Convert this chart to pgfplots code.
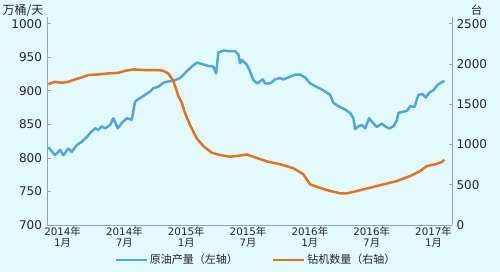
\documentclass[border=0pt]{standalone}
\usepackage{pgfplots}
\pgfplotsset{compat=1.18}
\usepackage{fontspec}
\setmainfont{DejaVu Sans}
\newfontfamily\cjk{Noto Sans CJK SC}
\definecolor{bg}{HTML}{E2FAFC}
\definecolor{oilblue}{HTML}{52A6E0}
\definecolor{rigorange}{HTML}{E7721C}
\definecolor{axgray}{HTML}{9AA3A6}
\begin{document}
\begin{tikzpicture}
\fill[bg] (-47.5pt,-47pt) rectangle (452.5pt,225pt);
\path[use as bounding box] (-47.5pt,-47pt) rectangle (452.5pt,225pt);
\pgfplotsset{
  common/.style={
    at={(0pt,0pt)}, anchor=south west,
    scale only axis, width=404.5pt, height=208pt,
    xmin=-1.46, xmax=37.8,
    axis line style={axgray, line width=0.8pt},
    tick style={axgray, line width=0.8pt},
    tick align=inside, major tick length=3pt,
    /pgf/number format/assume math mode=true,
    /pgf/number format/1000 sep={},
    clip=false,
  }
}
\begin{axis}[common,
  axis x line*=bottom, axis y line*=left,
  ymin=700, ymax=1010,
  ytick={700,750,...,1000},
  yticklabel style={font=\fontsize{12}{12}\selectfont, text=black!85, xshift=-2pt},
  xtick={0,6,12,18,24,30,36},
  major x tick style={draw=none},
  xticklabels={2014{\cjk 年}\\1{\cjk 月},2014{\cjk 年}\\7{\cjk 月},2015{\cjk 年}\\1{\cjk 月},2015{\cjk 年}\\7{\cjk 月},2016{\cjk 年}\\1{\cjk 月},2016{\cjk 年}\\7{\cjk 月},2017{\cjk 年}\\1{\cjk 月}},
  xticklabel style={align=center, font=\fontsize{10.3}{10.3}\selectfont, text=black!85, inner sep=1pt, yshift=-1pt},
]
\addplot[oilblue, line width=2.5pt, line join=round] coordinates {
(-1.38,815.8) (-0.73,804) (-0.24,812) (0.08,804) (0.56,814) (0.89,809) (1.38,819) (1.86,824)
(2.35,831) (2.67,837) (3.16,844) (3.48,842) (3.81,847) (4.13,844) (4.61,849) (4.93,859)
(5.36,844) (5.75,852) (6.23,859) (6.72,857) (7.04,884) (7.52,889) (8.01,894) (8.50,899)
(8.82,904) (9.30,906) (9.79,912) (10.27,914) (10.76,915) (11.41,919) (12.06,929) (12.54,936)
(13.03,942) (13.51,940) (14.16,937) (14.64,936) (14.90,926) (15.13,957) (15.61,960) (16.26,959)
(16.75,959) (17.07,954) (17.23,941) (17.40,946) (17.88,939) (18.20,929) (18.52,916) (18.91,911)
(19.17,914) (19.44,917) (19.66,911) (20.15,911) (20.63,917) (21.12,919) (21.44,917) (21.92,920)
(22.57,924) (23.06,924) (23.54,920) (24.03,911) (24.51,907) (25.17,902) (25.97,894) (26.29,882)
(26.78,877) (27.43,872) (27.91,867) (28.23,859) (28.40,843) (28.72,847) (29.05,849) (29.37,844)
(29.76,859) (30.08,853) (30.50,846) (30.99,851) (31.31,847) (31.70,844) (32.12,847) (32.45,856)
(32.60,867) (33.09,869) (33.42,870) (33.74,877) (34.16,876) (34.54,894) (34.93,895) (35.26,890)
(35.58,897) (36.00,901) (36.43,909) (36.82,913) (37.07,915)
};
\node[font=\cjk\fontsize{12}{12}\selectfont, text=black!85] at (axis description cs:-0.0606,1.029) {万桶/天};
\end{axis}
\begin{axis}[common,
  axis x line=none, axis y line*=right,
  ymin=0, ymax=2583.3,
  ytick={0,500,...,2500},
  yticklabel style={font=\fontsize{12}{12}\selectfont, text=black!85, xshift=1pt},
  legend columns=2,
  legend style={at={(0.515,-0.168)}, anchor=center, draw=none, fill=none,
    font=\cjk\fontsize{11}{11}\selectfont, text=black!85,
    /tikz/every even column/.append style={column sep=32pt}},
  legend image code/.code={\draw[#1, line width=2.5pt] (0pt,0pt) -- (31pt,0pt);},
]
\addlegendimage{oilblue}
\addlegendentry{原油产量（左轴）}
\addplot[rigorange, line width=2.5pt, line join=round] coordinates {
(-1.38,1750) (-0.73,1778) (-0.08,1766) (0.56,1778) (1.21,1808) (1.86,1833) (2.50,1862)
(3.48,1870) (4.45,1883) (5.42,1890) (6.07,1915) (6.87,1932) (8.01,1924) (9.30,1924)
(9.79,1915) (10.27,1880) (10.76,1790) (11.24,1600) (11.57,1520) (11.89,1390) (12.38,1241)
(13.03,1076) (13.67,980) (14.49,897) (15.29,869) (16.26,848) (17.07,860) (17.88,875)
(18.69,840) (19.83,790) (21.12,755) (22.41,705) (23.38,629) (24.03,505) (24.68,475)
(25.65,434) (26.94,393) (27.59,393) (28.56,422) (29.85,463) (31.15,505) (32.45,546)
(33.74,608) (34.71,670) (35.36,732) (36.17,753) (36.82,782) (37.07,810)
};
\addlegendentry{钻机数量（右轴）}
\node[font=\cjk\fontsize{11.5}{11.5}\selectfont, text=black!85] at (axis description cs:1.061,1.034) {台};
\end{axis}
\end{tikzpicture}
\end{document}
